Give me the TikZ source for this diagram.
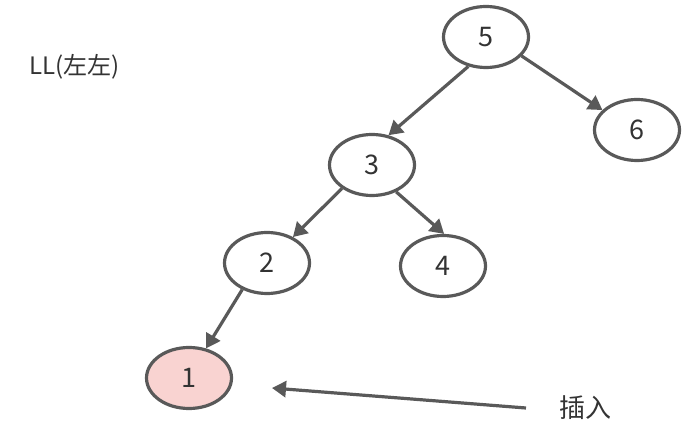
\documentclass[tikz,border=0pt]{standalone}
\usepackage{fontspec}
\setmainfont{Noto Sans CJK SC}
\usetikzlibrary{arrows.meta,shapes.geometric}
\definecolor{strk}{HTML}{595959}
\definecolor{pinkfill}{HTML}{F9D3D1}
\definecolor{txt}{HTML}{333333}
\begin{document}
\begin{tikzpicture}[x=1pt,y=-1pt,
  treenode/.style={ellipse,draw=strk,line width=3.2pt,fill=white,minimum width=85pt,minimum height=61pt,inner sep=0pt,text=txt,font=\fontsize{27}{30}\selectfont},
  edge/.style={draw=strk,line width=3.2pt,-{Triangle[length=14pt,width=16pt]}},
  lbl/.style={text=txt,inner sep=0pt}]
\useasboundingbox (0,0) rectangle (688,443);
\node[treenode] (n5) at (486,37) {5};
\node[treenode] (n6) at (637,130) {6};
\node[treenode] (n3) at (372,165) {3};
\node[treenode] (n2) at (267,263) {2};
\node[treenode] (n4) at (443,266) {4};
\node[treenode,fill=pinkfill] (n1) at (189,378) {1};
\node[lbl,anchor=west,font=\fontsize{24}{28}\selectfont] (ll) at (29,67) {LL(左左)};
\node[lbl,anchor=west,font=\fontsize{26}{30}\selectfont] (ins) at (559,408) {插入};
\coordinate (ins-start) at (526,408);
\coordinate (ins-end) at (272,388);
\draw[edge] (n5.-121) -- (n3.61);
\draw[edge] (n5.-28) -- (n6.150);
\draw[edge] (n3.-142) -- (n2.45);
\draw[edge] (n3.-48) -- (n4.88);
\draw[edge] (n2.-133) -- (n1.60);
\draw[edge] (ins-start) -- (ins-end);
\end{tikzpicture}
\end{document}
